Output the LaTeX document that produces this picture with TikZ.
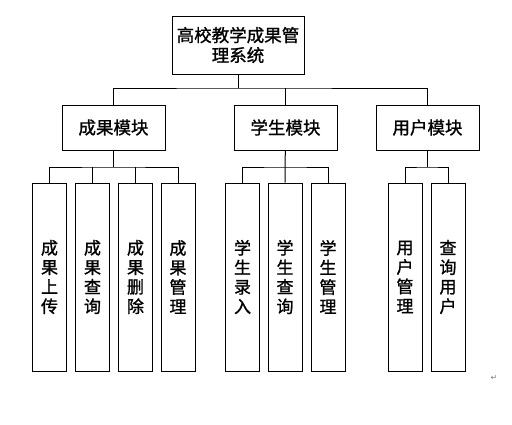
\documentclass[tikz,border=0pt]{standalone}
\usepackage{fontspec}
\newfontfamily\cjk[FakeBold=1.2]{Noto Sans CJK SC}
\newfontfamily\symb{DejaVu Sans}
\usetikzlibrary{positioning}

\begin{document}
\begin{tikzpicture}[
  x=1pt, y=-1pt,
  topbox/.style={draw, line width=1pt, minimum width=132pt, minimum height=58pt,
                 align=center, inner sep=0pt, font=\cjk\fontsize{17.5}{20}\selectfont},
  modbox/.style={draw, line width=1pt, minimum width=103pt, minimum height=45pt,
                 inner sep=0pt, font=\cjk\fontsize{17.5}{20}\selectfont},
  leafbox/.style={draw, line width=1pt, minimum width=34pt, minimum height=188pt,
                  align=center, inner sep=0pt, font=\cjk\fontsize{17}{19.5}\selectfont},
  link/.style={line width=1pt},
]
  \useasboundingbox (0,0) rectangle (512,424);

  % Root node
  \node[topbox] (sys) at (238,45) {高校教学成果管\\理系统};

  % Modules
  \node[modbox] (ach) at (113.5,127.5) {成果模块};
  \node[modbox] (stu) at (285.5,127.5) {学生模块};
  \node[modbox] (usr) at (427.5,127.5) {用户模块};

  \coordinate (rbus) at (238,88);
  \coordinate (lbus) at (0,167);
  \draw[link] (sys) -- (rbus);
  \draw[link] (ach.north) |- (rbus) -| (usr.north);
  \draw[link] (stu) -- (stu.north |- rbus);

  % Achievement functions
  \node[leafbox] (a1) at (49.5,277)  {成\\果\\上\\传};
  \node[leafbox] (a2) at (92.5,277)  {成\\果\\查\\询};
  \node[leafbox] (a3) at (135.5,277) {成\\果\\删\\除};
  \node[leafbox] (a4) at (178,277)   {成\\果\\管\\理};
  \draw[link] (ach) -- (ach.south |- lbus);
  \draw[link] (a1.north) |- (ach.south |- lbus) -| (a4.north);
  \foreach \s in {a2,a3} { \draw[link] (\s) -- (\s.north |- lbus); }

  % Student functions
  \node[leafbox] (s1) at (242.5,277) {学\\生\\录\\入};
  \node[leafbox] (s2) at (285,277)   {学\\生\\查\\询};
  \node[leafbox] (s3) at (328,277)   {学\\生\\管\\理};
  \draw[link] (s1.north) |- (stu.south |- lbus) -| (s3.north);
  \foreach \s in {s2} { \draw[link] (stu) -- (\s.north); }

  % User functions
  \node[leafbox] (u1) at (405,277) {用\\户\\管\\理};
  \node[leafbox] (u2) at (448,277) {查\\询\\用\\户};
  \draw[link] (usr) -- (usr.south |- lbus);
  \draw[link] (u1.north) |- (usr.south |- lbus) -| (u2.north);

  % Paragraph mark
  \node[font=\symb\fontsize{8}{8}\selectfont, text=gray] (pm) at (494,378) {↵};
\end{tikzpicture}
\end{document}
